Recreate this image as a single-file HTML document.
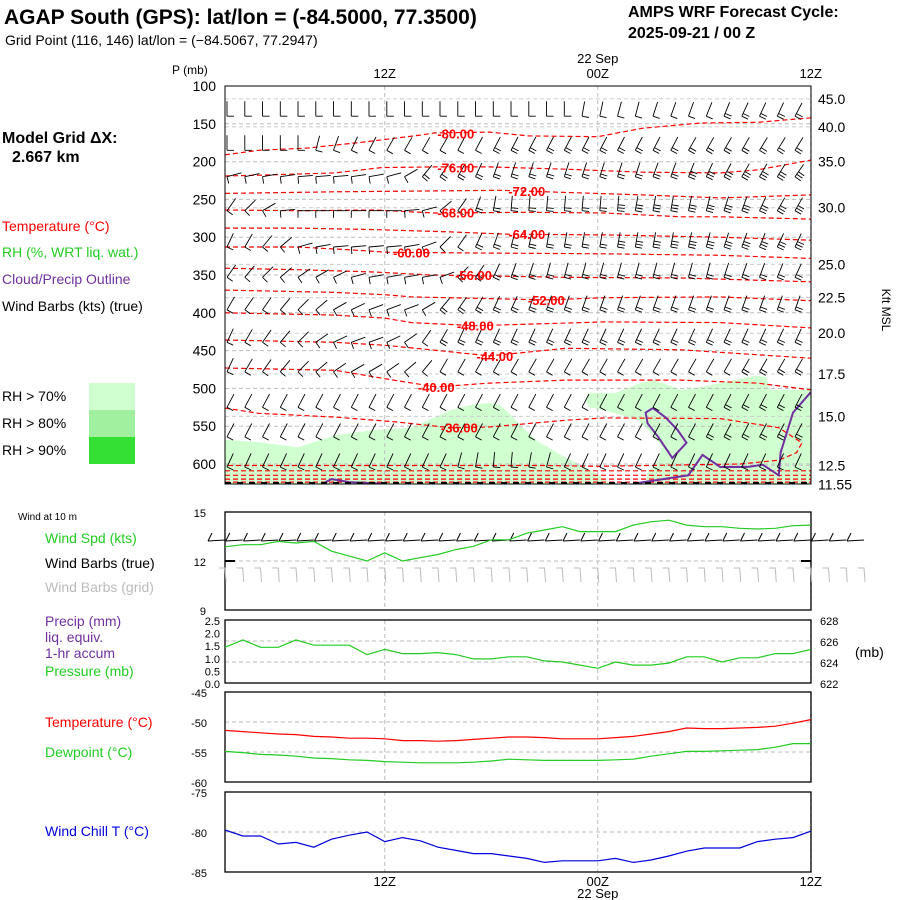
<!DOCTYPE html>
<html><head><meta charset="utf-8"><style>
html,body{margin:0;padding:0;background:#fff;}
svg{display:block;}
text{font-family:"Liberation Sans",sans-serif;}
</style></head><body>
<svg id="chart" width="900" height="900" viewBox="0 0 900 900" xmlns="http://www.w3.org/2000/svg">
<defs><clipPath id="mainclip"><rect x="225" y="86" width="586" height="398"/></clipPath></defs>
<text x="4" y="24" font-size="21" font-weight="bold">AGAP South (GPS):  lat/lon = (-84.5000, 77.3500)</text>
<text x="5" y="45" font-size="14">Grid Point (116, 146) lat/lon = (−84.5067, 77.2947)</text>
<text x="628" y="17" font-size="16" font-weight="bold">AMPS WRF Forecast Cycle:</text>
<text x="628" y="38" font-size="16" font-weight="bold">2025-09-21 / 00  Z</text>
<text x="2" y="143" font-size="16" font-weight="bold">Model Grid ΔX:</text>
<text x="12" y="162" font-size="16" font-weight="bold">2.667 km</text>
<text x="2" y="231" font-size="14" fill="#ff0000">Temperature (°C)</text>
<text x="2" y="257" font-size="14" fill="#22cc22">RH (%, WRT liq. wat.)</text>
<text x="2" y="284" font-size="14" fill="#7030a0">Cloud/Precip Outline</text>
<text x="2" y="311" font-size="14">Wind Barbs (kts) (true)</text>
<text x="2" y="401" font-size="14">RH &gt; 70%</text>
<text x="2" y="428" font-size="14">RH &gt; 80%</text>
<text x="2" y="455" font-size="14">RH &gt; 90%</text>
<rect x="89" y="383" width="46" height="27" fill="#d0ffd0"/>
<rect x="89" y="410" width="46" height="27" fill="#a0f0a0"/>
<rect x="89" y="437" width="46" height="27" fill="#33e033"/>
<text x="18" y="520" font-size="10">Wind at 10 m</text>
<text x="45" y="543" font-size="14" fill="#22cc22">Wind Spd (kts)</text>
<text x="45" y="568" font-size="14">Wind Barbs (true)</text>
<text x="45" y="592" font-size="14" fill="#bbbbbb">Wind Barbs (grid)</text>
<text x="45" y="626" font-size="14" fill="#7030a0">Precip (mm)</text>
<text x="45" y="642" font-size="14" fill="#7030a0">liq. equiv.</text>
<text x="45" y="658" font-size="14" fill="#7030a0">1-hr accum</text>
<text x="45" y="676" font-size="14" fill="#22cc22">Pressure (mb)</text>
<text x="45" y="727" font-size="14" fill="#ff0000">Temperature (°C)</text>
<text x="45" y="757" font-size="14" fill="#22cc22">Dewpoint (°C)</text>
<text x="45" y="836" font-size="14" fill="#0000dd">Wind Chill T (°C)</text>
<text x="855" y="657" font-size="14">(mb)</text>
<text x="172" y="74" font-size="12">P (mb)</text>
<text x="882" y="310" font-size="12" transform="rotate(90 882 310)" text-anchor="middle">Kft MSL</text>
<g id="layer"></g>
</svg>
<script>
// ---- data ----
const hours = [0,1,2,3,4,5,6,7,8,9,10,11,12,13,14,15,16,17,18,19,20,21,22,23,24,25,26,27,28,29,30,31,32,33];
const timeTicks = [{h:9,l:"12Z"},{h:21,l:"00Z"},{h:33,l:"12Z"}];
const pLevels = [100,150,200,250,300,350,400,450,500,550,600];
const htLabels = ["45.0","40.0","35.0","30.0","25.0","22.5","20.0","17.5","15.0","12.5","11.55"];
const htPress = [117,154,200,261,336,380,427,481,537,602,627];
const precipTicks = ["2.5","2.0","1.5","1.0","0.5","0.0"];
const presTicks = [628,626,624,622];
const windSpd = [12.87,13.0,13.0,13.2,13.1,13.2,12.6,12.3,12.0,12.5,12.0,12.2,12.4,12.7,12.9,13.3,13.3,13.7,13.9,14.1,13.8,13.8,13.8,14.2,14.4,14.5,14.2,14.1,14.1,14.0,13.96,14.0,14.16,14.2];
const sfcPres = [625.4,626.1,625.4,625.4,626.1,625.6,625.6,625.6,624.7,625.2,624.8,624.8,624.9,624.7,624.3,624.3,624.5,624.5,624.1,624.0,623.7,623.4,624.0,623.7,623.7,623.9,624.5,624.5,624.0,624.4,624.4,624.8,624.8,625.2];
const sfcTemp = [-51.4,-51.6,-51.8,-52.0,-52.1,-52.4,-52.5,-52.7,-52.7,-52.8,-53.1,-53.1,-53.2,-53.1,-52.9,-52.7,-52.5,-52.5,-52.6,-52.8,-52.8,-52.8,-52.6,-52.4,-52.0,-51.6,-51.0,-51.1,-51.1,-51.0,-50.9,-50.7,-50.2,-49.6];
const dewpt = [-54.9,-55.1,-55.4,-55.5,-55.7,-56.0,-56.1,-56.3,-56.4,-56.6,-56.7,-56.8,-56.8,-56.8,-56.7,-56.5,-56.2,-56.3,-56.4,-56.4,-56.4,-56.4,-56.3,-56.2,-55.7,-55.3,-54.9,-54.9,-54.8,-54.7,-54.6,-54.2,-53.6,-53.6];
const windChill = [-79.75,-80.5,-80.5,-81.5,-81.3,-81.9,-80.9,-80.4,-80.0,-81.2,-80.7,-81.1,-81.9,-82.3,-82.7,-82.7,-83.0,-83.3,-83.8,-83.6,-83.6,-83.6,-83.3,-83.8,-83.5,-83.0,-82.4,-82.0,-82.0,-82.0,-81.2,-80.9,-80.7,-79.9];
// isotherms: [hour, pressure] pairs
const isoLabels = [{t:"-80.00",h:13.0,p:163},{t:"-76.00",h:13.0,p:208},{t:"-72.00",h:17.0,p:239},{t:"-68.00",h:13.0,p:267},{t:"-64.00",h:17.0,p:296},{t:"-60.00",h:10.5,p:320},{t:"-56.00",h:14.0,p:350},{t:"-52.00",h:18.1,p:383},{t:"-48.00",h:14.1,p:417},{t:"-44.00",h:15.2,p:457},{t:"-40.00",h:11.9,p:498},{t:"-36.00",h:13.2,p:552}];
const iso80 = [[0,191],[1.9,185],[4.7,182],[7.9,174],[11.0,165],[11.8,162],[14.9,161],[17.1,166],[21.0,167],[23.5,156],[26.8,149],[30.0,148],[33,142]];
const iso76 = [[0,219],[1.9,218],[6.2,215],[8.8,208],[11.8,207],[14.9,207],[19.2,210],[23.5,214],[27.9,215],[30.0,211],[33,198]];
const iso72 = [[0,242],[6.2,240],[15.5,238],[23.5,244],[27.9,248],[33,244]];
const iso68 = [[0,264],[4.1,265],[8.4,264],[11.8,268],[17.1,267],[21.4,268],[25.7,273],[27.9,273],[33,276]];
const iso64 = [[0,288],[4.1,288],[8.4,290],[12.7,293],[15.9,296],[21.4,297],[27.9,300],[33,304]];
const iso60 = [[0,313],[4.1,313],[7.3,317],[9.2,320],[14.9,321],[21.4,322],[27.9,324],[33,328]];
const iso56 = [[0,341],[4.1,343],[8.4,346],[11.6,350],[19.2,353],[25.7,354],[33,359]];
const iso52 = [[0,370],[6.2,373],[9.0,376],[10.5,379],[18.1,383],[21.4,380],[27.9,379],[33,384]];
const iso48 = [[0,400],[6.2,403],[9.0,407],[10.5,413],[14.1,417],[21.4,412],[27.9,413],[33,420]];
const iso44 = [[0,436],[6.2,439],[9.0,443],[11.6,449],[14.9,457],[19.2,447],[25.7,449],[33,460]];
const iso40 = [[0,473],[6.2,476],[9.5,489],[11.9,498],[14.9,493],[19.2,489],[25.7,489],[30.0,493],[33,502]];
const iso36 = [[0,526],[1.9,533],[6.2,538],[9.5,544],[12.7,552],[14.9,551],[19.2,542],[21.4,539],[27.9,540],[31.2,552],[32.5,572],[32.2,585],[31.2,595],[29.0,600],[21.0,603],[18.0,602],[0,602]];
const isoLow1 = [[0,609],[33,609]];
const isoLow2 = [[0,615],[33,615]];
const isoLow3 = [[0,620],[33,620]];
const isoLow4 = [[0,624],[33,624]];
// RH > 70% regions
const rhLeft = [[0,568],[1.9,571],[4.1,578],[6.2,562],[8.4,555],[10.5,552],[12.7,529],[13.8,522],[14.9,519],[15.5,522],[16.1,535],[16.6,548],[17.5,568],[18.9,588],[20.0,601],[21.1,615],[21.7,626],[0,626]];
const rhRight = [[20.3,515],[20.5,506],[22.0,506],[23.5,492],[24.2,489],[25.7,502],[26.4,500],[27.9,493],[29.9,483],[30.5,485],[30.7,502],[33,502],[33,626],[23.7,626],[23.8,612],[24.4,595],[24.6,578],[24.2,564],[23.3,542],[21.4,529],[20.5,525]];
// cloud outline
const cloudLoop = [[24.1,526],[24.8,538],[25.5,555],[26.0,572],[25.2,592],[25.0,585],[24.4,564],[23.8,546],[23.7,532],[24.1,526]];
const cloudEdge = [[23.3,625],[26.1,615],[26.9,588],[27.9,604],[29.4,604],[30.3,601],[31.2,615],[31.3,585],[32.0,532],[33,505]];
const cloudBottom = [[5.5,626],[6.0,620],[7.0,624],[9.0,626]];
// upper-air barbs
const barbP = [140,185,220,265,313,353,396,439,478,525,564,604];
const barbAng = [
[-90,-90,-90,-90,-90,-90,-90,-90,-90,-90,-90,-90,-90,-90,-90,-90,-90,-90,-90,-90,-80,-78,-75,-75,-72,-70,-70,-68,-68,-65,-65,-65,-62,-60],
[-90,-90,-90,-90,-90,-75,-70,-65,-62,-60,-60,-60,-60,-62,-62,-62,-62,-62,-62,-62,-62,-62,-62,-62,-62,-62,-60,-60,-60,-60,-58,-58,-58,-58],
[-15,-12,-10,-8,-5,-5,-5,-8,-10,-15,-30,-50,-55,-60,-65,-70,-72,-72,-72,-72,-72,-72,-72,-72,-70,-70,-68,-65,-62,-60,-60,-58,-55,-55],
[-55,-45,-30,-5,0,0,0,0,0,0,-5,-15,-40,-55,-70,-80,-85,-85,-85,-85,-85,-85,-85,-80,-80,-80,-78,-75,-72,-70,-65,-60,-60,-60],
[-65,-60,-50,-40,-15,-10,-5,-5,-5,-5,-10,-20,-45,-55,-65,-70,-75,-78,-80,-80,-80,-80,-80,-80,-80,-80,-78,-75,-72,-70,-68,-65,-65,-65],
[-55,-50,-45,-40,-35,-30,-25,-15,-10,-10,-10,-10,-20,-45,-55,-65,-70,-72,-75,-75,-75,-75,-75,-75,-75,-75,-75,-75,-72,-70,-70,-68,-65,-65],
[-60,-55,-55,-50,-45,-40,-30,-25,-20,-20,-20,-30,-50,-55,-60,-65,-65,-70,-70,-70,-70,-70,-70,-70,-70,-70,-70,-70,-70,-70,-70,-70,-70,-70],
[-65,-60,-55,-50,-45,-35,-25,-20,-20,-25,-35,-55,-60,-65,-65,-65,-65,-65,-65,-65,-65,-65,-65,-65,-65,-65,-65,-65,-65,-65,-65,-65,-65,-65],
[-65,-60,-55,-50,-45,-40,-35,-30,-30,-35,-40,-50,-60,-60,-60,-60,-60,-60,-60,-60,-60,-60,-60,-60,-60,-60,-60,-60,-60,-60,-60,-60,-60,-60],
[-62,-62,-62,-62,-62,-62,-62,-62,-62,-62,-62,-62,-62,-62,-62,-62,-62,-62,-62,-62,-62,-62,-62,-62,-62,-62,-62,-62,-62,-62,-62,-62,-62,-62],
[-62,-62,-62,-62,-62,-62,-62,-62,-62,-62,-62,-62,-62,-62,-62,-62,-62,-62,-62,-62,-62,-62,-62,-62,-62,-62,-62,-62,-62,-62,-62,-62,-62,-62],
[-65,-65,-65,-65,-65,-65,-65,-65,-65,-65,-65,-65,-65,-75,-80,-85,-85,-80,-75,-65,-65,-65,-65,-65,-65,-65,-65,-65,-65,-65,-65,-65,-65,-65]];
const barbSpd = [
[10,10,10,10,10,10,10,10,10,10,10,10,10,10,10,10,10,10,10,10,10,10,10,10,10,10,10,10,20,20,20,20,20,20],
[10,10,10,10,10,10,10,10,10,10,10,10,10,10,10,20,20,20,20,20,20,20,20,20,20,20,20,20,20,20,20,20,20,20],
[10,10,10,10,10,10,10,10,10,10,10,20,20,20,20,20,20,20,20,20,20,20,20,20,20,20,30,30,30,30,30,30,30,30],
[10,10,10,10,10,10,10,10,10,10,10,10,10,10,20,20,20,20,20,20,20,20,30,30,30,30,30,30,30,30,30,30,30,30],
[10,10,10,10,10,10,10,10,10,10,10,10,10,10,20,20,20,20,20,20,20,20,30,30,30,30,30,30,30,30,30,30,30,30],
[10,10,10,10,10,10,10,10,10,10,10,10,10,20,20,20,20,20,20,20,20,20,20,20,20,20,20,20,20,20,20,20,20,20],
[10,10,10,10,10,10,10,10,10,10,10,10,20,20,20,20,20,20,20,20,20,20,20,20,20,20,20,20,20,20,20,20,20,20],
[10,10,10,10,10,10,10,10,10,10,10,10,20,20,20,20,20,20,20,20,20,20,20,20,20,20,20,20,20,20,20,20,20,20],
[10,10,10,10,10,10,10,10,10,10,10,10,10,10,10,10,10,10,10,10,10,10,10,10,10,10,10,10,10,20,20,20,20,20],
[10,10,10,10,10,10,10,10,10,10,10,10,10,10,10,10,10,10,10,10,10,10,10,10,10,10,10,10,20,20,20,20,20,20],
[10,10,10,10,10,10,10,10,10,10,10,10,10,10,10,10,10,10,10,10,10,10,10,10,10,10,10,20,20,20,20,20,20,20],
[10,10,10,10,10,10,10,10,10,10,10,10,10,10,10,10,10,10,10,10,10,10,10,10,10,10,10,10,10,10,10,10,10,10]];
const barb10Count = 37;

// ---- scales ----
const X0 = 225, DX = 17.75;
const xH = h => X0 + h*DX;
const yMain = p => 86 + (p-100)*0.756;
const yWind = v => 512 + (15-v)/6*98;
const yPres = p => 620 + (628-p)/6*63;
const yPrecip = v => 683 - v/2.5*63;
const yTemp = t => 692 + (-45-t)/15*90;
const yChill = t => 792 + (-75-t)/10*80;

const NS = "http://www.w3.org/2000/svg";
const layer = document.getElementById('layer');
function mk(tag, attrs, parent){
  const e = document.createElementNS(NS, tag);
  for (const k in attrs) e.setAttribute(k, attrs[k]);
  (parent||layer).appendChild(e);
  return e;
}
function txt(s, x, y, size, anchor, fill, parent){
  const t = mk('text', {x:x, y:y, 'font-size':size, 'text-anchor':anchor||'start', fill:fill||'#000'}, parent);
  t.textContent = s;
  return t;
}
function ptsStr(arr, fy){ return arr.map(d => xH(d[0]).toFixed(1)+','+fy(d[1]).toFixed(1)).join(' '); }

// ---- main panel ----
const main = mk('g', {'clip-path':'url(#mainclip)'});


[rhLeft, rhRight].forEach((poly, i) => {
  const e = mk('polygon', {points: ptsStr(poly, yMain), fill:'#d0ffd0'}, main);
  
  
});
pLevels.forEach(p => {
  const l = mk('line', {x1:225, x2:811, y1:yMain(p), y2:yMain(p), stroke:'#bbbbbb', 'stroke-dasharray':'4,3', 'stroke-width':1}, main);
  
  
});
htPress.forEach(p => {
  const l = mk('line', {x1:225, x2:811, y1:yMain(p), y2:yMain(p), stroke:'#cccccc', 'stroke-dasharray':'4,3', 'stroke-width':1}, main);
  
  
});
timeTicks.forEach(t => {
  const l = mk('line', {x1:xH(t.h), x2:xH(t.h), y1:86, y2:484, stroke:'#bbbbbb', 'stroke-dasharray':'4,3'}, main);
  
  
});
[iso80,iso76,iso72,iso68,iso64,iso60,iso56,iso52,iso48,iso44,iso40,iso36,isoLow1,isoLow2,isoLow3,isoLow4].forEach((iso, i) => {
  const e = mk('polyline', {points: ptsStr(iso, yMain), fill:'none', stroke:'#ff0000', 'stroke-width':1.2, 'stroke-dasharray':'5,3'}, main);
  
  
});
[cloudLoop, cloudEdge, cloudBottom].forEach(c => {
  const e = mk('polyline', {points: ptsStr(c, yMain), fill:'none', stroke:'#7030a0', 'stroke-width':2}, main);
  
  
});
function barb(parent, x, y, ang, spd, color, L){
  const a = ang*Math.PI/180, sx = Math.cos(a), sy = Math.sin(a);
  const bx = -sy, by = sx;
  let d = 'M'+x.toFixed(1)+','+y.toFixed(1)+'L'+(x+sx*L).toFixed(1)+','+(y+sy*L).toFixed(1);
  const n = Math.floor(spd/10);
  for (let i=0;i<n;i++){
    const px = x+sx*i*3, py = y+sy*i*3;
    d += 'M'+px.toFixed(1)+','+py.toFixed(1)+'L'+(px+bx*7).toFixed(1)+','+(py+by*7).toFixed(1);
  }
  if (spd%10>=5){
    const px = x+sx*n*3, py = y+sy*n*3;
    d += 'M'+px.toFixed(1)+','+py.toFixed(1)+'L'+(px+bx*4).toFixed(1)+','+(py+by*4).toFixed(1);
  }
  return mk('path', {d:d, stroke:color, 'stroke-width':0.9, fill:'none'}, parent);
}
const barbG = mk('g', {}, main);


barbP.forEach((p, r) => {
  hours.forEach((h, c) => {
    const b = barb(barbG, xH(h)+2, yMain(p), barbAng[r][c], barbSpd[r][c], '#000', 15);
    
    
  });
});
isoLabels.forEach(l => {
  const t = txt(l.t, xH(l.h), yMain(l.p)+5, 13, 'middle', '#ff0000', main);
  t.setAttribute('font-weight', 'bold');
  
  
});
const mainFrame = mk('rect', {x:225, y:86, width:586, height:398, fill:'none', stroke:'#000', 'stroke-width':1});


mk('line', {x1:225, x2:811, y1:483, y2:483, stroke:'#000', 'stroke-width':2, 'stroke-dasharray':'6,6'});
pLevels.forEach(p => {
  const t = txt(String(p), 216, yMain(p)+5, 14, 'end');
  
  
});
htLabels.forEach((s, i) => {
  const t = txt(s, 818, yMain(htPress[i])+5, 14, 'start');
  
  
});
timeTicks.forEach(tk => {
  const t = txt(tk.l, xH(tk.h), 78, 13, 'middle');
  
  
  const b = txt(tk.l, xH(tk.h), 886, 13, 'middle');
  
  
});
let d1 = txt('22 Sep', xH(21), 63, 13, 'middle');  
let d2 = txt('22 Sep', xH(21), 898, 13, 'middle');  

// ---- lower panels ----
function panel(name, y0, y1, grids){
  const g = mk('g', {});
  
  
  grids.forEach(gy => mk('line', {x1:225, x2:811, y1:gy, y2:gy, stroke:'#bbbbbb', 'stroke-dasharray':'4,3'}, g));
  timeTicks.forEach(t => mk('line', {x1:xH(t.h), x2:xH(t.h), y1:y0, y2:y1, stroke:'#bbbbbb', 'stroke-dasharray':'4,3'}, g));
  mk('rect', {x:225, y:y0, width:586, height:y1-y0, fill:'none', stroke:'#000', 'stroke-width':1.3}, g);
  return g;
}
function line(g, arr, fy, color, name){
  const e = mk('polyline', {points: hours.map((h,i)=>xH(h).toFixed(1)+','+fy(arr[i]).toFixed(1)).join(' '), fill:'none', stroke:color, 'stroke-width':1.2}, g);
  
  
}
function ticks(g, vals, fy, x, anchor, name){
  vals.forEach(v => {
    const t = txt(String(v), x, fy(Number(v))+5, 11, anchor, '#000', g);
    
    
  });
}
// wind panel
const gW = panel('wind-panel', 512, 610, [yWind(12)]);
mk('line', {x1:225, x2:235, y1:yWind(12), y2:yWind(12), stroke:'#000', 'stroke-width':2}, gW);
mk('line', {x1:801, x2:811, y1:yWind(12), y2:yWind(12), stroke:'#000', 'stroke-width':2}, gW);
ticks(gW, [15,12,9], yWind, 206, 'end', 'wind-speed-tick-label');
for (let i=0;i<barb10Count;i++){
  const x = xH(i);
  const b = mk('path', {d:'M'+(x-17)+',541L'+x+',540M'+(x-17)+',541L'+(x-13)+',533', stroke:'#000', fill:'none'}, gW);
  
  
  const g2 = mk('path', {d:'M'+(x-6)+',568L'+x+',568L'+(x+1)+',582', stroke:'#bbbbbb', fill:'none'}, gW);
  
  
}
line(gW, windSpd, yWind, '#22cc22', 'wind-speed-line');
// precip/pressure panel
const gP = panel('precip-pressure-panel', 620, 683, [yPres(626), yPres(624)]);
ticks(gP, precipTicks, yPrecip, 220, 'end', 'precip-tick-label');
presTicks.forEach(v => {
  const t = txt(String(v), 820, yPres(v)+5, 11, 'start', '#000', gP);
  
  
});
line(gP, sfcPres, yPres, '#22cc22', 'pressure-line');
// temp panel
const gT = panel('temperature-panel', 692, 782, [yTemp(-50), yTemp(-55)]);
ticks(gT, [-45,-50,-55,-60], yTemp, 207, 'end', 'temperature-tick-label');
line(gT, sfcTemp, yTemp, '#ff0000', 'temperature-line');
line(gT, dewpt, yTemp, '#22cc22', 'dewpoint-line');
// wind chill panel
const gC = panel('wind-chill-panel', 792, 872, [yChill(-80)]);
ticks(gC, [-75,-80,-85], yChill, 207, 'end', 'wind-chill-tick-label');
line(gC, windChill, yChill, '#0000dd', 'wind-chill-line');
</script>
</body></html>
